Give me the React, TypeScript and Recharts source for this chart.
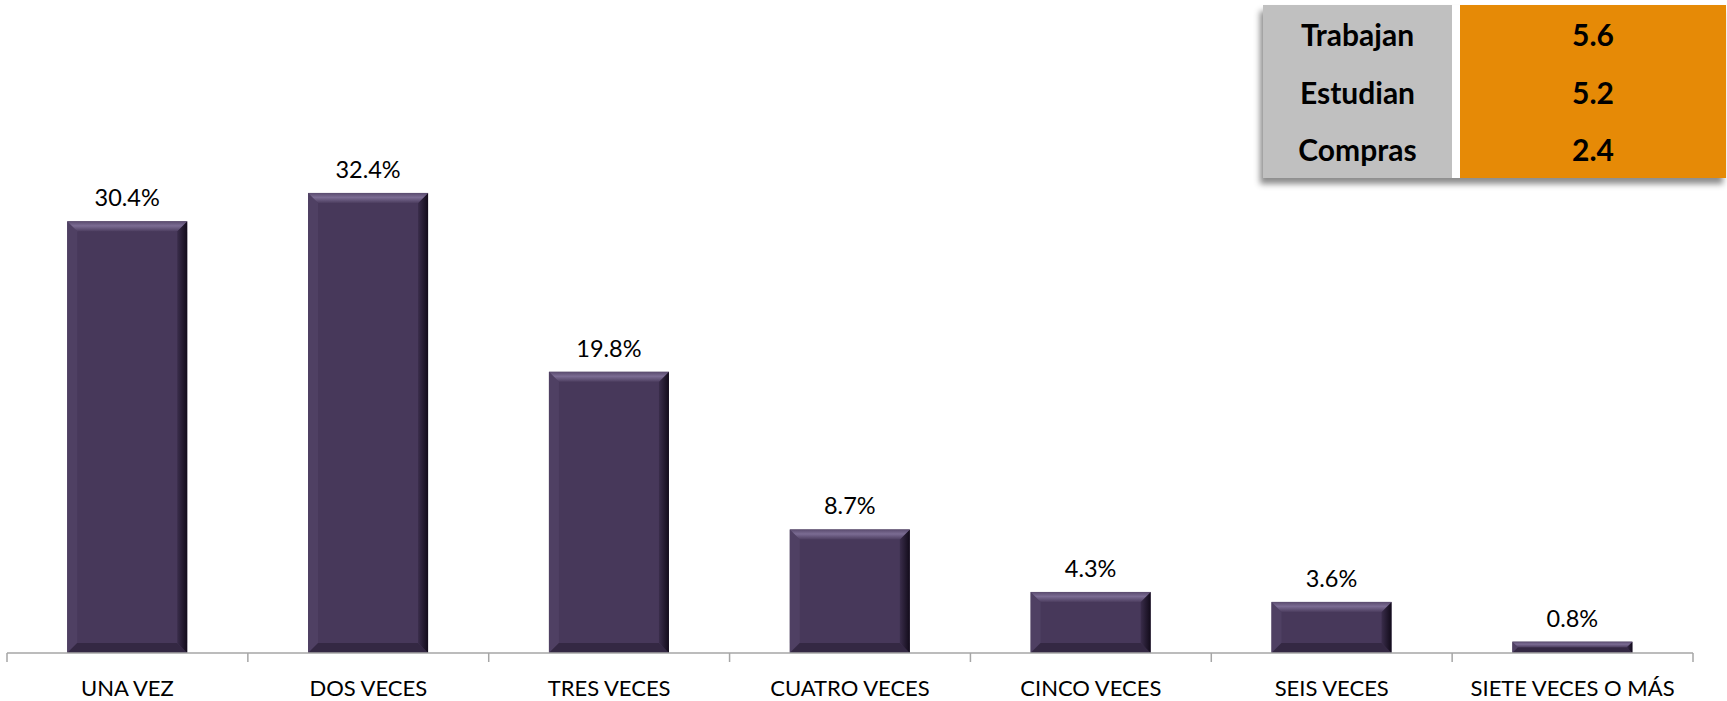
import React from 'react';
import { BarChart, Bar, XAxis, YAxis, LabelList } from 'recharts';

const categories = [
  'UNA VEZ',
  'DOS VECES',
  'TRES VECES',
  'CUATRO VECES',
  'CINCO VECES',
  'SEIS VECES',
  'SIETE VECES O MÁS',
];
const percentages = [30.4, 32.4, 19.8, 8.7, 4.3, 3.6, 0.8];

const tableLabels = ['Trabajan', 'Estudian', 'Compras'];
const tableValues = ['5.6', '5.2', '2.4'];

const data = categories.map((name, i) => ({ name, value: percentages[i] }));

const W = 1727;
const H = 701;
const MARGIN = { top: 156, right: 34, bottom: 0, left: 7 };
const BAND = (W - MARGIN.left - MARGIN.right) / categories.length;
const FONT = 'Lato, "Open Sans", sans-serif';

const BAR = '#47385a';

const BevelBar = (props: any) => {
  const { x, y, width, height } = props;
  if (!height || height <= 0) return null;
  const b = Math.min(10, height / 2, width / 2);
  const r = x + width;
  const btm = y + height;
  return (
    <g>
      <rect x={x} y={y} width={width} height={height} fill={BAR} />
      <polygon
        points={`${x},${btm} ${x},${y} ${x + b},${y + b} ${x + b},${btm - b}`}
        fill="#4f4063"
      />
      <polygon
        points={`${x},${btm} ${r},${btm} ${r - b},${btm - b} ${x + b},${btm - b}`}
        fill="#342843"
      />
      <polygon
        points={`${r},${y} ${r},${btm} ${r - b},${btm - b} ${r - b},${y + b}`}
        fill="url(#bevelRight)"
      />
      <polygon
        points={`${x},${y} ${r},${y} ${r - b},${y + b} ${x + b},${y + b}`}
        fill="url(#bevelTop)"
      />
    </g>
  );
};

const CategoryTick = (props: any) => {
  const { x, y, payload, index } = props;
  const left = x - BAND / 2;
  const last = index === categories.length - 1;
  return (
    <g>
      <line x1={left} y1={y} x2={left} y2={y + 9} stroke="#a6a6a6" strokeWidth={1.5} />
      {last && (
        <line x1={left + BAND} y1={y} x2={left + BAND} y2={y + 9} stroke="#a6a6a6" strokeWidth={1.5} />
      )}
      <text x={x} y={y + 43} textAnchor="middle" fill="#000" fontSize={22} fontFamily={FONT}>
        {payload.value}
      </text>
    </g>
  );
};

const SummaryTable = () => (
  <div
    style={{
      position: 'absolute',
      left: 1263,
      top: 5,
      width: 463,
      height: 173,
      display: 'flex',
      background: '#ffffff',
      boxShadow: '-3px 6px 6px rgba(0,0,0,0.45)',
      fontFamily: FONT,
      fontWeight: 700,
      fontSize: 30,
      color: '#000',
    }}
  >
    <div style={{ width: 189, background: '#c0c0c0', display: 'flex', flexDirection: 'column' }}>
      {tableLabels.map((t) => (
        <div key={t} style={{ flex: 1, display: 'flex', alignItems: 'center', justifyContent: 'center' }}>
          {t}
        </div>
      ))}
    </div>
    <div style={{ width: 8, background: '#ffffff' }} />
    <div style={{ flex: 1, background: '#e68a06', display: 'flex', flexDirection: 'column' }}>
      {tableValues.map((v) => (
        <div key={v} style={{ flex: 1, display: 'flex', alignItems: 'center', justifyContent: 'center' }}>
          {v}
        </div>
      ))}
    </div>
  </div>
);

export default function App() {
  return (
    <div style={{ position: 'absolute', left: 0, top: 0, width: W, height: H, background: '#fff' }}>
      <BarChart width={W} height={H} data={data} margin={MARGIN} barCategoryGap="25%">
        <defs>
          <linearGradient id="bevelTop" x1="0" y1="0" x2="0" y2="1">
            <stop offset="0%" stopColor="#5a4b6e" />
            <stop offset="45%" stopColor="#7b6c93" />
            <stop offset="100%" stopColor="#4d3e60" />
          </linearGradient>
          <linearGradient id="bevelRight" x1="0" y1="0" x2="1" y2="0">
            <stop offset="0%" stopColor="#3a2d4b" />
            <stop offset="100%" stopColor="#120b1a" />
          </linearGradient>
        </defs>
        <XAxis
          dataKey="name"
          height={48}
          interval={0}
          tickSize={0}
          tickMargin={0}
          tickLine={false}
          axisLine={{ stroke: '#a6a6a6', strokeWidth: 1.5 }}
          tick={<CategoryTick />}
        />
        <YAxis hide domain={[0, 35]} />
        <Bar dataKey="value" shape={<BevelBar />} isAnimationActive={false}>
          <LabelList
            dataKey="value"
            position="top"
            offset={15}
            formatter={(v: any) => `${Number(v).toFixed(1)}%`}
            fill="#000"
            fontSize={23.5}
            fontFamily={FONT}
          />
        </Bar>
      </BarChart>
      <SummaryTable />
    </div>
  );
}
